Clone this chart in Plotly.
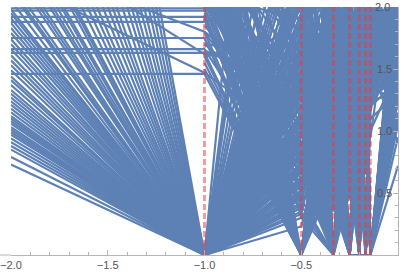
import plotly.graph_objects as go

# x positions of the polyline nodes
node_x = [-2.0, -1.0, -1/2, -1/3, -1/4, -1/5, -1/6, -1/7, 0.0]
# red dashed guide positions
guide_x = [-1.0, -1/2, -1/3, -1/4, -1/5, -1/6, -1/7]

x_tick_vals = [-2.0, -1.5, -1.0, -0.5, 0.0]
x_tick_labels = ["\u22122.0", "\u22121.5", "\u22121.0", "\u22120.5", "0.0"]
y_tick_vals = [0.5, 1.0, 1.5, 2.0]
y_tick_labels = ["0.5", "1.0", "1.5", "2.0"]

# ---- group A: polylines starting at x = -2 ----
a_at_m2 = [0.73, 0.79, 0.85, 0.88, 0.91, 0.94, 0.97, 0.99, 1.01, 1.03,
           1.06, 1.08, 1.10, 1.12, 1.15, 1.18, 1.21, 1.24, 1.27, 1.30,
           1.33, 1.37, 1.41, 1.44, 1.49, 1.53, 1.57, 1.61, 1.66, 1.70,
           1.74, 1.79, 1.83, 1.87, 1.91, 1.95, 1.98, 2.05, 2.12, 2.20,
           2.30, 2.40, 2.50, 2.62, 2.75, 2.88, 3.00, 3.15, 3.30, 3.45,
           3.60, 3.80, 4.00, 4.20, 4.40, 4.70, 5.00, 5.30, 5.60, 6.00,
           6.40, 6.90, 7.40, 8.00, 8.60, 2.15, 2.35, 2.55, 2.70, 2.95,
           1.46, 2.22, 1.63, 2.60, 1.66, 1.75, 2.40, 1.88, 1.92, 1.97,
           1.99, 3.00, 3.20, 2.90, 3.40, 3.10, 3.60, 3.30, 3.50, 3.80,
           3.40, 3.70, 3.90, 3.60, 4.00, 3.80, 4.20, 4.10, 4.40, 4.30,
           3.00, 3.20, 3.10, 3.40, 3.50, 3.30, 3.60, 3.80, 4.00, 4.20,
           3.00, 3.20, 3.30, 3.50, 3.70, 3.90, 4.10, 4.30, 4.50, 4.60]
a_at_m1 = [0, 0, 0, 0, 0, 0, 0, 0, 0, 0,
           0, 0, 0, 0, 0, 0, 0, 0, 0, 0,
           0, 0, 0, 0, 0, 0, 0, 0, 0, 0,
           0, 0, 0, 0, 0, 0, 0, 0, 0, 0,
           0, 0, 0, 0, 0, 0, 0, 0, 0, 0,
           0, 0, 0, 0, 0, 0, 0, 0, 0, 0,
           0, 0, 0, 0, 0, 0, 0, 0, 0, 0,
           1.46, 1.47, 1.63, 1.62, 1.66, 1.75, 1.80, 1.88, 1.92, 1.97,
           1.99, 2.05, 2.10, 2.15, 2.20, 2.25, 2.30, 2.35, 2.40, 2.45,
           2.50, 2.55, 2.60, 2.65, 2.70, 2.75, 2.80, 2.85, 2.90, 2.95,
           2.10, 2.20, 2.30, 2.40, 2.50, 2.60, 2.70, 2.80, 2.90, 3.00,
           2.15, 2.25, 2.35, 2.45, 2.55, 2.65, 2.75, 2.85, 2.95, 3.10]
a_at_m1_2 = [0.23, 0.35, 0.42, 0.50, 0.58, 0.66, 0.74, 0.82, 0.90, 0.98,
             1.06, 1.14, 1.22, 1.30, 1.38, 1.46, 1.54, 1.62, 1.70, 1.78,
             1.86, 1.94, 2.02, 2.10, 2.20, 2.30, 2.45, 2.60, 2.80, 3.00,
             0.55, 1.25, 0.72, 1.90, 0.38, 1.60, 4.50, 0.95, 1.15, 0.62,
             1.75, 2.15, 0.85, 1.40, 0.30, 1.05, 6.00, 0.47, 1.33, 1.85,
             0.78, 3.60, 1.50, 0.68, 1.00, 1.68, 0.40, 2.05, 1.20, 0.88,
             1.57, 8.00, 0.60, 1.10, 1.95, 0.80, 1.45, 5.20, 0.52, 1.30,
             0, 0.90, 0, 1.70, 0.45, 0, 1.20, 2.10, 0, 0.65,
             1.55, 0, 1.90, 0.35, 0, 1.00, 2.30, 0, 0.75, 1.40,
             0, 1.80, 0.50, 2.60, 0, 1.10, 0, 1.65, 0.30, 2.00,
             0, 1.30, 0.85, 0, 2.20, 1.50, 0, 0.60, 1.75, 0,
             2.40, 1.05, 0, 0.40, 1.35, 0, 1.95, 0.70, 0, 1.60]
a_at_m1_3 = [1.20, 0, 0.80, 1.90, 0.50, 2.30, 0, 1.50, 0.95, 2.00,
             0.60, 1.70, 0, 1.10, 2.50, 0.40, 1.35, 0, 1.85, 0.70,
             2.20, 1.00, 0.55, 0, 1.60, 0.90, 2.05, 1.25, 0, 0.45,
             1.45, 0.75, 2.40, 0, 1.15, 1.80, 0.50, 2.10, 0, 1.30,
             0.85, 1.65, 0, 2.30, 0.65, 1.05, 0, 1.95, 1.40, 0.35,
             2.00, 0, 1.20, 0.90, 1.75, 0, 2.50, 0.60, 1.50, 1.00,
             0, 1.85, 0.45, 1.30, 2.20, 0, 0.80, 1.60, 1.10, 0,
             1.40, 0, 0.90, 2.10, 0, 1.70, 0.55, 0, 1.25, 1.90,
             0.70, 1.60, 0, 2.40, 1.05, 0, 1.50, 0.85, 2.00, 0,
             1.15, 0, 1.75, 0.60, 2.20, 0, 1.35, 0.95, 0, 1.55,
             2.30, 0.50, 0, 1.45, 0.80, 0, 1.90, 1.20, 0, 0.65,
             1.00, 2.05, 1.60, 0, 0.40, 1.30, 0, 2.50, 0.90, 1.75]
a_at_m1_4 = [0.50, 1.60, 0, 1.10, 2.20, 0.75, 1.40, 0, 2.00, 0.90,
             1.85, 0, 1.30, 0.60, 0, 1.95, 0.85, 1.50, 0, 2.40,
             0.70, 1.25, 0, 1.70, 0.95, 0, 1.45, 2.30, 0.55, 1.10,
             0, 2.00, 1.00, 1.55, 0, 0.65, 1.80, 0, 1.20, 2.50,
             1.35, 0, 1.90, 0.80, 1.05, 2.20, 1.60, 0, 0.45, 1.75,
             0.90, 1.40, 0, 2.10, 0.60, 1.25, 0, 1.65, 2.35, 0,
             1.50, 0.70, 1.95, 0, 1.15, 1.80, 0.50, 0, 2.00, 1.30,
             0, 2.25, 1.05, 0.65, 1.60, 0, 1.90, 1.35, 0, 0.80,
             1.70, 1.00, 2.10, 0, 1.50, 0.75, 0, 1.25, 1.85, 0.95,
             0, 1.45, 0.60, 2.00, 0, 1.65, 1.10, 0, 1.80, 0.70,
             1.20, 0, 2.30, 0.90, 1.55, 1.00, 0, 1.75, 0.50, 2.10,
             0, 1.40, 0.85, 1.95, 0, 2.20, 1.15, 0.55, 1.60, 0]
a_at_m1_5 = [1.90, 0.60, 1.45, 0, 1.00, 2.10, 0.80, 1.65, 0, 1.30,
             0, 1.10, 2.30, 1.55, 0.70, 0, 1.85, 1.00, 2.05, 0,
             1.35, 0.50, 1.75, 0, 2.40, 1.15, 0.65, 0, 1.60, 1.95,
             0.90, 0, 1.50, 2.20, 0.75, 1.25, 0, 1.70, 1.05, 0,
             2.00, 1.40, 0.55, 0, 1.80, 0.95, 0, 2.35, 1.20, 0.70,
             0, 1.60, 1.05, 0.45, 0, 1.90, 1.30, 2.15, 0, 1.50,
             1.00, 0, 1.70, 2.25, 0.60, 0, 1.40, 1.85, 0, 1.15,
             1.75, 0.85, 0, 1.30, 2.00, 1.55, 0, 0.70, 1.90, 0,
             0, 2.20, 1.40, 0.90, 0, 1.65, 1.20, 0, 2.45, 1.60,
             1.35, 0.75, 0, 1.85, 1.00, 0, 2.10, 1.50, 0, 1.25,
             0.60, 1.80, 1.15, 0, 2.30, 1.45, 0.80, 0, 1.70, 1.00,
             1.55, 0, 2.00, 1.10, 0.65, 0, 1.90, 1.35, 0, 2.25]
a_at_m1_6 = [0, 1.30, 2.00, 0.90, 1.60, 0, 1.15, 2.30, 1.45, 0.70,
             1.50, 2.10, 0, 1.00, 1.75, 1.35, 0, 2.40, 0.80, 1.60,
             2.05, 0, 1.20, 1.85, 0.65, 1.50, 0, 1.95, 1.10, 0,
             1.70, 1.25, 0, 0.95, 2.20, 0, 1.55, 1.05, 1.90, 1.40,
             0, 2.00, 1.30, 1.65, 0, 1.45, 2.15, 0.85, 0, 1.80,
             1.35, 0.90, 0, 1.70, 2.30, 0, 1.00, 1.55, 1.20, 0,
             2.10, 1.60, 0, 0.75, 1.45, 1.90, 0, 1.25, 2.35, 0.95,
             0, 1.50, 2.20, 0, 1.10, 1.80, 1.35, 0, 1.60, 2.00,
             1.25, 0.80, 1.95, 1.45, 0, 2.10, 0, 1.70, 1.05, 0,
             2.25, 1.40, 1.15, 0, 1.75, 1.30, 0.90, 0, 1.55, 2.00,
             1.65, 0, 1.50, 2.15, 0, 1.05, 1.85, 1.40, 0, 1.20,
             1.90, 1.60, 0, 1.35, 2.30, 1.00, 0, 1.75, 1.45, 0]
a_at_m1_7 = [1.70, 0, 1.35, 2.10, 0.95, 1.55, 0, 1.80, 2.25, 1.20,
             0, 1.60, 1.90, 0, 1.40, 2.00, 1.10, 0, 1.65, 2.30,
             1.25, 1.75, 0, 1.45, 2.15, 0, 1.85, 1.30, 0, 1.60,
             0, 1.95, 1.50, 0, 1.20, 2.05, 1.70, 0, 1.35, 1.90,
             1.55, 0, 2.20, 1.00, 1.75, 0, 1.40, 1.85, 2.00, 0,
             1.60, 1.25, 0, 1.95, 0, 1.50, 2.10, 0, 1.70, 1.35,
             0, 1.80, 1.45, 1.15, 0, 2.00, 1.60, 0, 1.30, 1.90,
             1.65, 0, 1.40, 2.25, 0, 1.55, 1.85, 1.20, 0, 1.70,
             2.00, 1.45, 0, 1.75, 1.30, 0, 1.95, 1.60, 0, 1.50,
             0, 1.90, 1.65, 1.35, 0, 2.15, 1.50, 1.80, 0, 1.25,
             1.85, 1.55, 0, 1.70, 1.40, 2.05, 0, 1.60, 1.95, 0,
             1.45, 0, 1.75, 2.10, 1.30, 0, 1.65, 1.90, 0, 1.50]
a_at_0 = [1.50, 2.20, 1.25, 1.80, 2.50, 1.35, 1.95, 1.60, 2.10, 1.40,
          1.75, 1.20, 2.30, 1.55, 1.90, 2.05, 1.30, 2.40, 1.65, 1.85,
          1.45, 2.15, 1.70, 1.25, 2.00, 1.60, 2.35, 1.50, 1.90, 1.35,
          2.25, 1.55, 1.80, 1.30, 2.10, 1.65, 1.40, 2.45, 1.75, 1.95,
          0.90, 1.85, 2.00, 1.50, 1.35, 2.30, 1.60, 1.70, 1.45, 2.20,
          1.90, 1.30, 2.05, 1.55, 1.80, 1.40, 2.50, 1.65, 1.00, 2.10,
          1.60, 1.95, 1.35, 2.25, 1.50, 1.75, 2.00, 1.45, 1.85, 1.30,
          2.15, 1.40, 1.90, 1.60, 1.25, 2.35, 1.70, 1.55, 2.00, 1.80,
          1.35, 2.10, 1.65, 1.95, 1.50, 2.40, 1.30, 1.85, 1.75, 2.05,
          1.45, 1.60, 2.20, 1.40, 1.90, 1.55, 2.30, 1.25, 1.80, 1.70,
          2.00, 1.50, 1.35, 2.45, 1.65, 1.85, 0.72, 2.10, 1.55, 1.95,
          1.75, 2.25, 1.40, 1.60, 2.00, 1.30, 1.90, 1.50, 2.35, 1.80]

# ---- group B: polylines starting at x = -1 ----
b_at_m1 = [0, 2.40, 0, 1.70, 3.00, 0, 2.20, 0, 1.55, 2.80,
           0, 3.50, 0, 2.10, 0, 1.90, 2.60, 0, 4.00, 0,
           2.30, 0, 1.60, 0, 3.20, 0, 2.00, 0, 2.70, 1.80,
           0, 2.50, 0, 3.80, 0, 1.75, 0, 2.15, 0, 3.30,
           0, 2.90, 1.50, 0, 2.35, 0, 4.50, 0, 2.05, 0,
           1.95, 0, 3.10, 0, 2.45, 0, 1.65, 0, 2.75, 0,
           0, 3.60, 0, 2.25, 1.85, 0, 2.65, 0, 5.00, 0,
           2.55, 0, 1.70, 0, 3.40, 0, 2.10, 0, 1.90, 0,
           0, 2.85, 0, 3.90, 0, 2.30, 1.60, 0, 3.00, 0,
           2.20, 0, 4.20, 0, 1.80, 0, 2.95, 0, 2.40, 0]
b_at_m1_2 = [1.15, 0, 0.62, 1.05, 0, 2.35, 0.80, 0.45, 0, 1.60,
             1.80, 0, 0.95, 1.45, 3.20, 0, 2.00, 0.70, 0, 1.35,
             0.55, 2.70, 0, 1.00, 1.25, 0.33, 0, 1.55, 0.90, 0,
             4.00, 0, 0.85, 1.70, 1.20, 0, 2.10, 0.40, 0.50, 0,
             1.65, 1.10, 0, 0.78, 1.90, 2.90, 0, 1.42, 0.65, 0.38,
             0, 1.95, 0.75, 1.08, 0, 5.50, 1.30, 0.58, 0, 1.75,
             0.48, 1.50, 2.45, 0, 0.95, 1.28, 0, 0.68, 2.20, 1.85,
             0, 0.88, 1.60, 3.60, 0, 1.12, 0.50, 0.74, 0, 2.25,
             1.48, 0, 0.42, 1.35, 2.60, 0, 1.80, 0.92, 0, 1.62,
             1.15, 0.57, 0, 2.05, 0.70, 1.38, 0, 0.82, 2.30, 1.02]
b_at_m1_3 = [0.60, 1.80, 0, 2.30, 1.20, 0.45, 0, 1.60, 2.05, 0.90,
             0, 1.35, 2.20, 0.70, 1.50, 1.95, 0, 1.10, 2.40, 0.55,
             1.70, 0, 1.25, 2.00, 0.50, 1.45, 2.35, 0, 0.80, 1.55,
             1.05, 2.15, 0, 1.40, 0.65, 1.90, 0, 2.50, 1.20, 0.75,
             0, 1.75, 0.95, 2.20, 1.30, 0, 1.60, 0.40, 1.85, 2.30,
             1.15, 0, 2.00, 0.85, 1.50, 2.40, 0, 1.25, 0.60, 1.90,
             2.10, 0.70, 0, 1.60, 2.30, 0.95, 1.35, 0, 1.80, 0.50,
             1.45, 2.05, 0, 1.00, 1.70, 0, 2.25, 0.65, 1.30, 0,
             1.90, 0.80, 1.55, 0, 2.40, 1.10, 0.45, 0, 1.75, 2.00,
             0, 1.65, 2.15, 0.90, 0, 1.40, 2.30, 0, 1.05, 1.80]
b_at_m1_4 = [1.90, 0, 1.40, 0.75, 2.20, 0, 1.60, 1.05, 0, 2.40,
             1.30, 0.60, 0, 1.85, 2.05, 0, 1.15, 1.70, 0, 0.95,
             0, 2.30, 1.50, 0.70, 0, 1.95, 1.10, 2.15, 0, 1.35,
             1.75, 0, 1.00, 2.40, 0, 0.55, 1.60, 0, 2.00, 1.25,
             1.45, 0, 2.20, 0.80, 0, 1.65, 1.20, 0, 2.35, 0.90,
             0, 1.55, 0.65, 2.10, 0, 1.30, 1.85, 0, 1.05, 2.25,
             0.75, 1.90, 1.40, 0, 1.15, 2.00, 0, 1.60, 0.50, 1.95,
             0, 1.20, 2.30, 0.85, 0, 1.70, 1.00, 0, 2.15, 1.45,
             1.10, 0, 1.80, 2.20, 0.60, 0, 1.50, 1.90, 0, 1.30,
             2.05, 0, 1.35, 1.70, 0.90, 0, 1.60, 2.40, 0, 1.15]
b_at_m1_5 = [0, 1.50, 2.10, 1.20, 0, 1.80, 0.80, 0, 1.65, 1.00,
             2.20, 1.40, 0.90, 0, 1.55, 2.35, 0, 1.25, 1.90, 0,
             1.60, 0.95, 0, 1.75, 2.15, 0, 1.30, 0.70, 2.00, 0,
             1.15, 1.85, 0, 0.60, 1.45, 2.25, 0, 1.70, 1.05, 0,
             2.05, 1.30, 0, 1.60, 0.85, 0, 1.95, 1.40, 0, 2.30,
             1.25, 0, 1.70, 1.00, 2.20, 0, 0.75, 1.55, 1.90, 0,
             1.40, 0, 2.00, 1.15, 0, 1.65, 2.35, 0, 1.30, 0.80,
             1.80, 1.05, 0, 2.10, 1.35, 0, 1.60, 1.95, 0, 1.20,
             0, 1.75, 1.10, 0, 2.25, 1.45, 0, 0.90, 1.65, 2.00,
             1.50, 2.10, 0, 1.25, 1.85, 0, 1.00, 1.70, 2.30, 0]
b_at_m1_6 = [1.60, 0, 1.25, 2.00, 1.45, 0, 1.85, 1.10, 0, 2.20,
             0, 1.75, 1.40, 2.10, 0, 1.20, 1.95, 0, 1.55, 1.30,
             2.25, 1.50, 1.10, 0, 1.80, 1.35, 0, 2.05, 1.45, 1.00,
             0, 1.60, 2.30, 1.25, 0, 1.90, 1.55, 0, 1.35, 2.00,
             1.70, 0, 1.45, 2.15, 1.15, 1.80, 0, 1.60, 1.30, 0,
             1.90, 1.40, 0, 1.65, 2.35, 1.05, 0, 1.75, 1.50, 1.25,
             0, 1.55, 1.85, 1.30, 2.10, 0, 1.45, 1.95, 0, 1.70,
             1.35, 0, 1.60, 1.90, 1.20, 2.05, 0, 1.50, 1.75, 0,
             1.65, 1.30, 0, 1.85, 1.50, 2.20, 1.00, 0, 1.40, 1.95,
             0, 1.75, 1.55, 2.00, 1.25, 0, 1.60, 1.45, 1.90, 1.35]
b_at_m1_7 = [1.85, 1.40, 0, 1.70, 2.05, 1.30, 0, 1.55, 1.95, 0,
             1.50, 2.20, 1.65, 0, 1.45, 1.80, 1.35, 1.90, 0, 1.60,
             0, 1.75, 1.55, 2.00, 0, 1.40, 1.85, 1.25, 0, 1.70,
             1.90, 0, 1.45, 1.65, 2.10, 0, 1.35, 1.80, 1.55, 0,
             1.50, 1.95, 0, 1.30, 1.75, 1.60, 2.00, 0, 1.45, 1.85,
             0, 1.60, 1.90, 1.40, 0, 1.80, 1.55, 0, 2.15, 1.35,
             1.70, 1.45, 0, 1.95, 1.60, 1.25, 0, 1.85, 1.50, 0,
             1.80, 1.55, 1.30, 0, 2.05, 1.65, 1.40, 0, 1.90, 1.50,
             1.35, 0, 1.75, 1.60, 0, 1.95, 1.50, 1.80, 0, 1.45,
             1.65, 1.90, 0, 1.55, 1.40, 2.00, 0, 1.70, 1.30, 1.85]
b_at_0 = [1.70, 2.00, 1.30, 1.55, 2.20, 1.45, 1.85, 1.60, 2.30, 1.25,
          1.90, 1.50, 2.10, 1.35, 1.75, 2.40, 1.60, 1.80, 1.15, 2.05,
          1.40, 1.65, 1.95, 1.50, 2.25, 1.30, 1.85, 1.70, 1.10, 2.15,
          1.55, 1.80, 2.00, 1.45, 1.60, 1.35, 2.30, 1.75, 1.90, 1.05,
          2.10, 1.40, 1.65, 1.85, 1.50, 2.35, 1.25, 1.70, 1.95, 1.60,
          1.80, 1.30, 2.05, 1.55, 0.95, 1.75, 2.20, 1.45, 1.65, 1.90,
          1.50, 2.25, 1.35, 1.70, 2.00, 1.60, 1.85, 1.40, 2.15, 1.55,
          1.95, 1.65, 1.45, 2.30, 1.75, 1.20, 1.90, 1.55, 2.05, 1.40,
          1.60, 2.10, 1.80, 1.50, 1.35, 1.95, 2.20, 1.65, 1.45, 1.85,
          2.00, 1.55, 1.70, 1.30, 2.40, 1.60, 1.80, 1.50, 2.10, 1.75]

a_columns = [a_at_m2, a_at_m1, a_at_m1_2, a_at_m1_3, a_at_m1_4,
             a_at_m1_5, a_at_m1_6, a_at_m1_7, a_at_0]
b_columns = [b_at_m1, b_at_m1_2, b_at_m1_3, b_at_m1_4,
             b_at_m1_5, b_at_m1_6, b_at_m1_7, b_at_0]

xs, ys = [], []
for cols, nodes in ((a_columns, node_x), (b_columns, node_x[1:])):
    for i in range(len(cols[0])):
        for nx, col in zip(nodes, cols):
            xs.append(nx)
            ys.append(col[i])
        xs.append(None)
        ys.append(None)

gx, gy = [], []
for g in guide_x:
    gx += [g, g, None]
    gy += [0, 2, None]

fig = go.Figure()
fig.add_trace(go.Scatter(x=xs, y=ys, mode="lines",
                         line=dict(color="#5E81B5", width=2.2),
                         hoverinfo="skip", showlegend=False))
fig.add_trace(go.Scatter(x=gx, y=gy, mode="lines",
                         line=dict(color="rgba(235,55,60,0.5)", width=3, dash="6px,3px"),
                         hoverinfo="skip", showlegend=False))

axis_color = "#b5b5b5"
font = dict(family="Liberation Sans, Arial, sans-serif", size=11, color="#555555")
fig.update_layout(
    width=409, height=276,
    margin=dict(l=11, r=11, t=7, b=21, pad=0),
    paper_bgcolor="white", plot_bgcolor="white",
    showlegend=False,
    font=font,
    xaxis=dict(range=[-2, 0], tickvals=x_tick_vals, ticktext=x_tick_labels,
               automargin=False,
               showgrid=False, zeroline=False, showline=True, linecolor=axis_color,
               linewidth=1, ticks="inside", ticklen=5, tickcolor=axis_color,
               minor=dict(dtick=0.1, ticks="inside", ticklen=3, tickcolor=axis_color),
               tickfont=font, fixedrange=True),
    yaxis=dict(range=[0, 2], side="right", tickvals=y_tick_vals, ticktext=y_tick_labels,
               automargin=False,
               showgrid=False, zeroline=False, showline=True, linecolor=axis_color,
               linewidth=1, ticks="inside", ticklen=5, tickcolor=axis_color,
               ticklabelposition="inside",
               minor=dict(dtick=0.1, ticks="inside", ticklen=3, tickcolor=axis_color),
               tickfont=font, fixedrange=True),
)
fig.add_shape(type="line", xref="paper", yref="paper", x0=-0.03, x1=0, y0=0, y1=0,
              line=dict(color=axis_color, width=1))
# top tick label sits half outside the plot area, so place it explicitly
fig.add_annotation(x=0, y=y_tick_vals[-1], text=y_tick_labels[-1],
                   xref="x", yref="y", xanchor="right", yanchor="middle",
                   xshift=-6, showarrow=False, font=font)
fig.write_html("out.html", config={"displayModeBar": False},
               post_script="document.body.style.margin='0px';")
